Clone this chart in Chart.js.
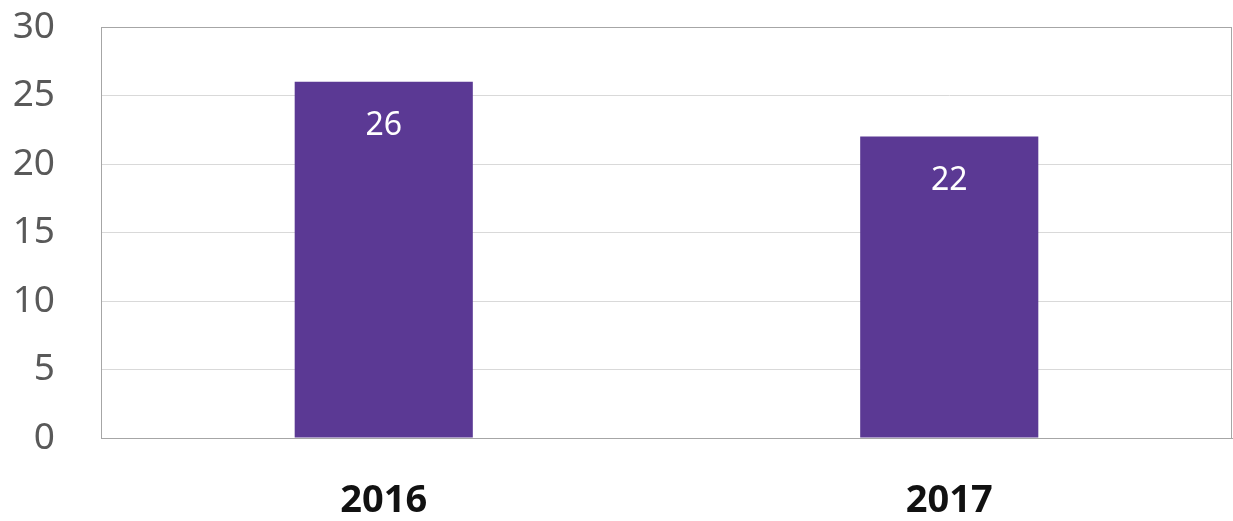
<!DOCTYPE html>
<html>
<head>
<meta charset="utf-8">
<script src="https://cdn.jsdelivr.net/npm/chart.js@4"></script>
<style>
    html, body { margin: 0; padding: 0; background: #fff; }
    #wrap { width: 1233px; height: 521px; }
</style>
</head>
<body>
<div id="wrap"><canvas id="yearChart"></canvas></div>
<script>
const years = ['2016', '2017'];
const counts = [26, 22];
const yTicks = [0, 5, 10, 15, 20, 25, 30];

// white value labels inside the top of each bar
const barLabels = {
    id: 'barLabels',
    afterDatasetsDraw(chart) {
        const ctx = chart.ctx;
        const meta = chart.getDatasetMeta(0);
        ctx.save();
        ctx.fillStyle = '#ffffff';
        ctx.font = '32px "Noto Sans"';
        ctx.textAlign = 'center';
        ctx.textBaseline = 'middle';
        meta.data.forEach((bar, i) => {
            ctx.fillText(counts[i], bar.x, bar.y + 44);
        });
        ctx.restore();
    }
};

// thin frame round the plot area
const plotFrame = {
    id: 'plotFrame',
    afterDraw(chart) {
        const a = chart.chartArea;
        const ctx = chart.ctx;
        ctx.save();
        ctx.strokeStyle = '#a6a6a6';
        ctx.lineWidth = 1;
        ctx.strokeRect(a.left + 0.5, a.top + 0.5, a.right - a.left - 1, a.bottom - a.top);
        ctx.restore();
    }
};

const ctx = document.getElementById('yearChart').getContext('2d');
new Chart(ctx, {
    type: 'bar',
    data: {
        labels: years,
        datasets: [{
            data: counts,
            backgroundColor: '#5b3994',
            borderWidth: 0,
            categoryPercentage: 0.63,
            barPercentage: 0.5
        }]
    },
    options: {
        responsive: true,
        maintainAspectRatio: false,
        animation: false,
        layout: {
            padding: { top: 27, right: 1, left: 0, bottom: 0 }
        },
        plugins: {
            legend: { display: false },
            tooltip: { enabled: false }
        },
        scales: {
            x: {
                grid: { display: false, drawTicks: false },
                border: { color: '#a6a6a6' },
                ticks: {
                    color: '#111111',
                    padding: 40,
                    font: { family: 'Noto Sans', size: 38, weight: 'bold' }
                },
                afterFit(scale) { scale.height = 83; }
            },
            y: {
                min: 0,
                max: 30,
                afterBuildTicks(scale) {
                    scale.ticks = yTicks.map(v => ({ value: v }));
                },
                grid: {
                    drawTicks: false,
                    color: '#d9d9d9'
                },
                border: { color: '#a6a6a6' },
                ticks: {
                    color: '#595959',
                    padding: 46,
                    font: { family: 'Noto Sans', size: 37 }
                },
                afterFit(scale) {
                    scale.width = 101;
                    scale.paddingTop = 0;
                    scale.paddingBottom = 0;
                }
            }
        }
    },
    plugins: [barLabels, plotFrame]
});
</script>
</body>
</html>
